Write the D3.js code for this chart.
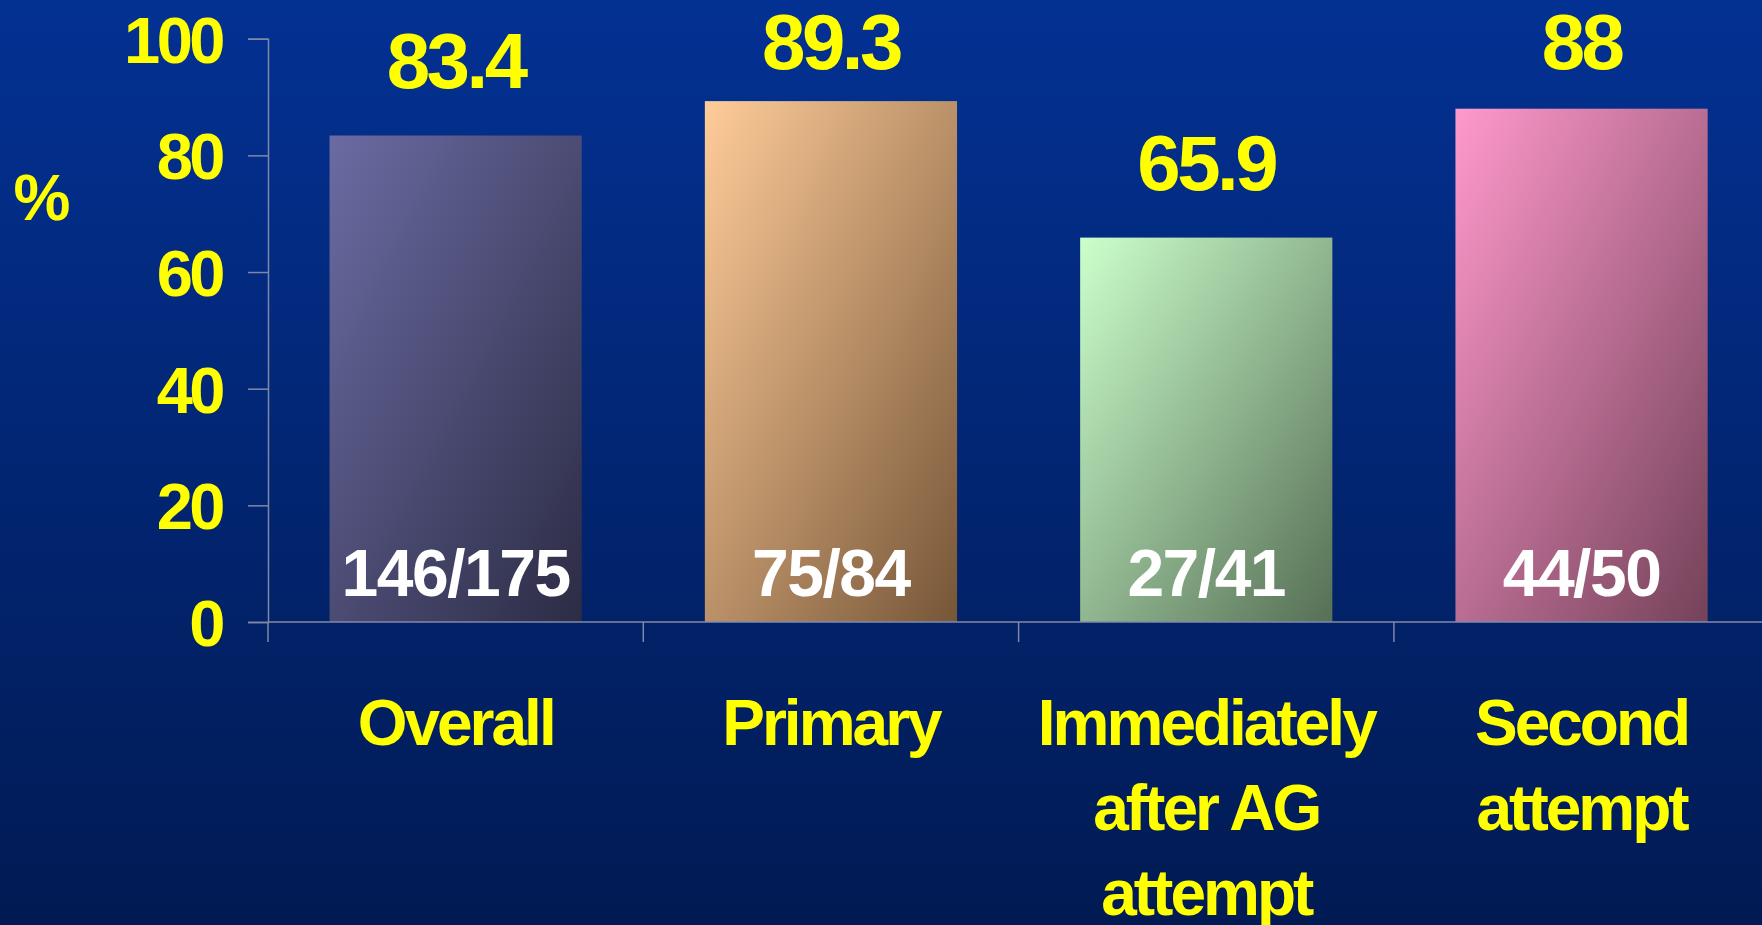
<!DOCTYPE html>
<html>
<head>
<meta charset="utf-8">
<script src="https://cdn.jsdelivr.net/npm/d3@7"></script>
<style>
  html, body { margin: 0; padding: 0; overflow: hidden; background: #02266f; }
  svg { display: block; }
  text { font-family: "Liberation Sans", Arial, sans-serif; font-weight: bold; }
</style>
</head>
<body>
<svg id="chart" width="1762" height="925"></svg>
<script>
// Success rates (%) by group
const categories = [
  ["Overall"],
  ["Primary"],
  ["Immediately", "after AG", "attempt"],
  ["Second", "attempt"]
];
const values = [83.4, 89.3, 65.9, 88];
const counts = ["146/175", "75/84", "27/41", "44/50"];
const yTicks = [0, 20, 40, 60, 80, 100];
const axisTitle = "%";

// Bar fills: light top-left corner fading to a dark bottom-right corner
const barLight = ["#6b6ba3", "#ffcc99", "#ccffcc", "#ff99cc"];
const barDark  = ["#2c2c45", "#765638", "#566f55", "#744259"];

const W = 1762, H = 925;
const plotLeft = 268, plotTop = 38.7, plotBottom = 622;
const step = 375.3;
const plotRight = plotLeft + step * categories.length;

const svg = d3.select("#chart");
const defs = svg.append("defs");

// background: vertical blue gradient
const bg = defs.append("linearGradient").attr("id", "bg")
  .attr("x1", 0).attr("y1", 0).attr("x2", 0).attr("y2", 1);
bg.append("stop").attr("offset", "0%").attr("stop-color", "#033193");
bg.append("stop").attr("offset", "100%").attr("stop-color", "#011a53");
svg.append("rect").attr("width", W).attr("height", H).attr("fill", "url(#bg)");

values.forEach((v, i) => {
  const g = defs.append("linearGradient").attr("id", "bar" + i)
    .attr("x1", 0).attr("y1", 0).attr("x2", 1).attr("y2", 1);
  g.append("stop").attr("offset", "0%").attr("stop-color", barLight[i]);
  g.append("stop").attr("offset", "100%").attr("stop-color", barDark[i]);
});

const x = d3.scaleBand()
  .domain(d3.range(categories.length))
  .range([plotLeft, plotRight])
  .paddingInner(0.328)
  .paddingOuter(0.164);

const y = d3.scaleLinear().domain([0, 100]).range([plotBottom, plotTop]);

const axisColor = "#8088a8";

// bars
svg.append("g").selectAll("rect")
  .data(values)
  .join("rect")
  .attr("x", (d, i) => x(i))
  .attr("width", x.bandwidth())
  .attr("y", d => y(d))
  .attr("height", d => y(0) - y(d))
  .attr("fill", (d, i) => `url(#bar${i})`);

// y axis
const yAxis = svg.append("g")
  .attr("transform", `translate(${plotLeft},0)`)
  .call(d3.axisLeft(y).tickValues(yTicks).tickSize(20).tickPadding(26).tickFormat(d3.format("d")));
yAxis.select(".domain").attr("stroke", axisColor).attr("stroke-width", 1.5);
yAxis.selectAll(".tick line").attr("stroke", axisColor).attr("stroke-width", 1.5);
yAxis.selectAll(".tick text")
  .attr("fill", "#ffff00")
  .attr("font-size", 65)
  .attr("letter-spacing", -3.5)
  .attr("dy", "0.36em")
  .style("font-family", "'Liberation Sans', Arial, sans-serif")
  .style("font-weight", "bold");

// x axis: baseline plus category dividers
const xg = svg.append("g");
xg.append("line")
  .attr("x1", plotLeft).attr("x2", plotRight)
  .attr("y1", y(0)).attr("y2", y(0))
  .attr("stroke", axisColor).attr("stroke-width", 1.5);
xg.selectAll("line.div")
  .data(d3.range(categories.length + 1))
  .join("line")
  .attr("class", "div")
  .attr("x1", i => plotLeft + i * x.step())
  .attr("x2", i => plotLeft + i * x.step())
  .attr("y1", y(0)).attr("y2", y(0) + 20)
  .attr("stroke", axisColor).attr("stroke-width", 1.5);

// value labels above bars
svg.append("g").selectAll("text")
  .data(values)
  .join("text")
  .attr("x", (d, i) => x(i) + x.bandwidth() / 2)
  .attr("y", d => Math.max(y(d) - 48, 69))
  .attr("text-anchor", "middle")
  .attr("fill", "#ffff00")
  .attr("font-size", 78)
  .attr("letter-spacing", -3.5)
  .text(d => d);

// counts inside bars
svg.append("g").selectAll("text")
  .data(counts)
  .join("text")
  .attr("x", (d, i) => x(i) + x.bandwidth() / 2)
  .attr("y", y(0) - 26)
  .attr("text-anchor", "middle")
  .attr("fill", "#ffffff")
  .attr("font-size", 66)
  .attr("letter-spacing", -1.5)
  .text(d => d);

// category labels
const cat = svg.append("g").selectAll("text")
  .data(categories)
  .join("text")
  .attr("text-anchor", "middle")
  .attr("fill", "#ffff00")
  .attr("font-size", 64)
  .attr("letter-spacing", -3);
cat.each(function(lines, i) {
  d3.select(this).selectAll("tspan")
    .data(lines)
    .join("tspan")
    .attr("x", x(i) + x.bandwidth() / 2)
    .attr("y", (l, j) => 745 + j * 85)
    .text(l => l);
});

// axis title
svg.append("text")
  .attr("x", 42)
  .attr("y", 220)
  .attr("text-anchor", "middle")
  .attr("fill", "#ffff00")
  .attr("font-size", 64)
  .text(axisTitle);
</script>
</body>
</html>
